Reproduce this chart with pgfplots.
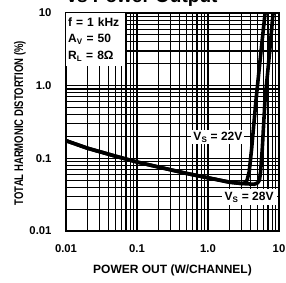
\documentclass[border=0pt]{standalone}
\usepackage{fontspec}
\setmainfont{Liberation Sans}
\usepackage{graphicx}
\usepackage{pgfplots}
\pgfplotsset{compat=1.18}
\begin{document}
\begin{tikzpicture}
\clip (-66pt,-51pt) rectangle (220pt,231pt);
\begin{axis}[at={(0pt,0pt)}, anchor=south west,
  width=213pt, height=218pt, scale only axis,
  xmode=log, ymode=log, xmin=0.01, xmax=10, ymin=0.01, ymax=10,
  xtick={0.01,0.1,1,10}, xticklabels={0.01,0.1,1.0,10},
  ytick={0.01,0.1,1,10}, yticklabels={0.01,0.1,1.0,10},
  minor xtick={0.02,0.03,0.04,0.05,0.06,0.07,0.08,0.09,0.2,0.3,0.4,0.5,0.6,0.7,0.8,0.9,2,3,4,5,6,7,8,9},
  minor ytick={0.02,0.03,0.04,0.05,0.06,0.07,0.08,0.09,0.2,0.3,0.4,0.5,0.6,0.7,0.8,0.9,2,3,4,5,6,7,8,9},
  grid=both,
  major grid style={black, line width=1.3pt},
  minor grid style={black, line width=1.1pt},
  axis line style={black, line width=1.6pt},
  tick style={draw=none},
  /pgf/number format/assume math mode=true,
  ticklabel style={font=\bfseries\fontsize{11.3}{12}\selectfont},
  xticklabel style={yshift=-10pt},
  yticklabel style={xshift=-11pt},
  clip=true,
]
\addplot[black, line width=3.6pt, line join=round] coordinates {
 (0.01,0.175) (0.02,0.138) (0.05,0.107) (0.1,0.089) (0.2,0.076) (0.5,0.062) (1,0.054) (2,0.047) (3,0.045) (3.3,0.046) (3.55,0.05) (3.8,0.065) (4.1,0.13) (4.74,0.63) (5.5,2.6) (6.5,12)
};
\addplot[black, line width=3.6pt, line join=round] coordinates {
 (0.01,0.175) (0.02,0.138) (0.05,0.107) (0.1,0.089) (0.2,0.076) (0.5,0.062) (1,0.054) (2,0.047) (3,0.045) (4.5,0.044) (5.0,0.046) (5.3,0.05) (5.5,0.065) (5.8,0.13) (6.35,0.63) (7.3,2.6) (8.4,12)
};
\node[fill=white, inner xsep=2pt, inner ysep=4.5pt, text width=55pt, anchor=north west, align=left, font=\bfseries\fontsize{12}{16.5}\selectfont] at (rel axis cs:0,1) {\mbox{f = 1 kHz}\\A\textsubscript{V} = 50\\R\textsubscript{L} = 8Ω};
\node[fill=white, inner sep=2pt, font=\bfseries\fontsize{12}{12}\selectfont] at (axis cs:1.38,0.196) {V\textsubscript{S} = 22V};
\node[fill=white, inner sep=3pt, font=\bfseries\fontsize{12}{12}\selectfont] at (axis cs:3.8,0.0294) {V\textsubscript{S} = 28V};
\end{axis}
\node[anchor=base, font=\bfseries\fontsize{12}{12}\selectfont] at (106.5pt,-42pt) {POWER OUT (W/CHANNEL)};
\node[anchor=base, rotate=90, inner sep=0pt, font=\bfseries\fontsize{12.5}{13}\selectfont] at (-43pt,108pt) {\scalebox{0.76}[1]{TOTAL HARMONIC DISTORTION (\%)}};
\node[anchor=base, font=\bfseries\fontsize{19}{20}\selectfont] at (76pt,229pt) {vs Power Output};
\end{tikzpicture}
\end{document}
